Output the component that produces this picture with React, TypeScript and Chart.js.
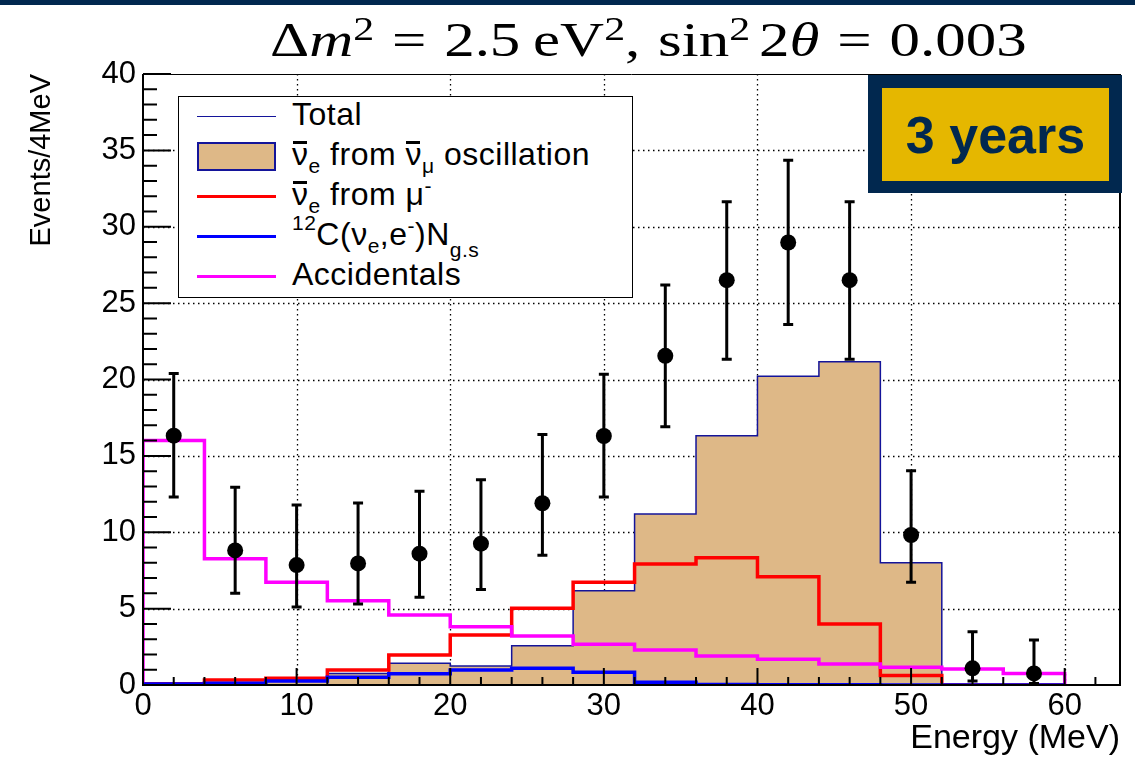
import React, { useEffect, useRef } from 'react';
import { Chart, registerables } from 'chart.js';

Chart.register(...registerables);

const SANS = '"Liberation Sans", Arial, Helvetica, sans-serif';
const SERIF = '"Liberation Serif", "Times New Roman", serif';
const NAVY = '#01284f';
const GOLD = '#e5b700';
const TAN = '#deb887';
const HIST_EDGE = '#14149a';

// ---- data ----
const binEdges = [0, 4, 8, 12, 16, 20, 24, 28, 32, 36, 40, 44, 48, 52, 56, 60];
const binCenters = [2, 6, 10, 14, 18, 22, 26, 30, 34, 38, 42, 46, 50, 54, 58];
const oscillation = [0, 0, 0.25, 0.75, 1.42, 1.24, 2.57, 6.17, 11.19, 16.32, 20.22, 21.16, 8.0, 0, 0];
const muDecay = [0.08, 0.33, 0.44, 0.98, 1.96, 3.27, 5.02, 6.72, 7.92, 8.33, 7.09, 3.99, 0.63, 0, 0];
const carbon = [0.07, 0.11, 0.26, 0.5, 0.74, 0.98, 1.09, 0.83, 0.18, 0.04, 0.02, 0.01, 0, 0, 0];
const accidentals = [16.0, 8.27, 6.72, 5.52, 4.58, 3.82, 3.2, 2.66, 2.29, 1.9, 1.68, 1.37, 1.16, 1.05, 0.76];
const observed = [16.32, 8.81, 7.85, 7.96, 8.6, 9.25, 11.9, 16.3, 21.55, 26.5, 28.97, 26.5, 9.82, 1.09, 0.76];
const errHigh = [20.4, 12.94, 11.78, 11.91, 12.68, 13.44, 16.4, 20.35, 26.18, 31.63, 34.36, 31.63, 14.03, 3.49, 2.94];
const errLow = [12.3, 6.0, 5.1, 5.3, 5.74, 6.26, 8.5, 12.3, 16.9, 21.33, 23.6, 21.33, 6.72, 0.26, 0.1];
const xTickValues = [0, 10, 20, 30, 40, 50, 60];
const yTickValues = [0, 5, 10, 15, 20, 25, 30, 35, 40];
const xGridValues = [10, 20, 30, 40, 50, 60];
const yGridValues = [5, 10, 15, 20, 25, 30, 35];
const X_MAX = 63.6;
const Y_MAX = 40;

function histPoints(values: number[]) {
  const pts: { x: number; y: number }[] = [{ x: binEdges[0], y: 0 }];
  values.forEach((v, i) => pts.push({ x: binEdges[i], y: v }));
  pts.push({ x: binEdges[binEdges.length - 1], y: 0 });
  return pts;
}

const rootFrame = {
  id: 'rootFrame',
  beforeDatasetsDraw(chart: any) {
    const { ctx, chartArea: a, scales } = chart;
    const xs = scales.x;
    const ys = scales.y;
    ctx.save();
    ctx.strokeStyle = '#000';
    ctx.lineWidth = 1.3;
    ctx.setLineDash([1.5, 3.5]);
    ctx.beginPath();
    xGridValues.forEach((v) => {
      const px = Math.round(xs.getPixelForValue(v)) + 0.5;
      ctx.moveTo(px, a.top);
      ctx.lineTo(px, a.bottom);
    });
    yGridValues.forEach((v) => {
      const py = Math.round(ys.getPixelForValue(v)) + 0.5;
      ctx.moveTo(a.left, py);
      ctx.lineTo(a.right, py);
    });
    ctx.stroke();
    ctx.restore();
  },
  afterDatasetsDraw(chart: any) {
    const { ctx, chartArea: a, scales } = chart;
    const xs = scales.x;
    const ys = scales.y;
    ctx.save();
    ctx.strokeStyle = '#000';
    ctx.lineWidth = 3;
    ctx.lineCap = 'butt';
    binCenters.forEach((c, i) => {
      const px = xs.getPixelForValue(c);
      const hi = ys.getPixelForValue(errHigh[i]);
      const lo = ys.getPixelForValue(errLow[i]);
      ctx.beginPath();
      ctx.moveTo(px, hi);
      ctx.lineTo(px, lo);
      ctx.moveTo(px - 5, hi);
      ctx.lineTo(px + 5, hi);
      ctx.moveTo(px - 5, lo);
      ctx.lineTo(px + 5, lo);
      ctx.stroke();
    });
    ctx.lineWidth = 2;
    ctx.beginPath();
    for (let v = 0; v <= X_MAX; v += 2) {
      const px = xs.getPixelForValue(v);
      const len = v % 10 === 0 ? 17 : 8;
      ctx.moveTo(px, a.bottom);
      ctx.lineTo(px, a.bottom - len);
    }
    for (let v = 0; v <= Y_MAX; v += 1) {
      const py = ys.getPixelForValue(v);
      const len = v % 5 === 0 ? 28 : 14;
      ctx.moveTo(a.left, py);
      ctx.lineTo(a.left + len, py);
    }
    ctx.stroke();
    ctx.beginPath();
    ctx.moveTo(a.left, a.top);
    ctx.lineTo(a.left, a.bottom);
    ctx.lineTo(a.right, a.bottom);
    ctx.lineTo(a.right, a.top);
    ctx.stroke();
    ctx.lineWidth = 1;
    ctx.beginPath();
    ctx.moveTo(a.left, a.top + 0.5);
    ctx.lineTo(a.right, a.top + 0.5);
    ctx.stroke();
    ctx.restore();
  },
};

const Sup = ({ children, size = 21, shift = -12 }: any) => (
  <span style={{ fontSize: size, position: 'relative', top: shift }}>{children}</span>
);
const Sub = ({ children, size = 21, shift = 8 }: any) => (
  <span style={{ fontSize: size, position: 'relative', top: shift }}>{children}</span>
);
const NuBar = () => (
  <span style={{ position: 'relative', display: 'inline-block' }}>
    ν
    <span
      style={{ position: 'absolute', left: 1, right: 2, top: 3, height: 3, background: '#000' }}
    />
  </span>
);

const TSup = ({ children }: any) => (
  <span style={{ fontSize: 33, position: 'relative', top: -16 }}>{children}</span>
);
const Op = ({ children }: any) => <span style={{ margin: '0 14px' }}>{children}</span>;

function Legend() {
  const rowTop = (i: number) => 1 + 40 * i;
  const lineY = (i: number) => 19.5 + 40 * i;
  const sample = (i: number, color: string, w: number) => (
    <div
      style={{
        position: 'absolute',
        left: 18,
        top: lineY(i) - w / 2,
        width: 79,
        height: w,
        background: color,
      }}
    />
  );
  const text = (i: number, content: any) => (
    <div
      style={{
        position: 'absolute',
        left: 113,
        top: rowTop(i),
        lineHeight: '32px',
        whiteSpace: 'nowrap',
        letterSpacing: 0.5,
      }}
    >
      {content}
    </div>
  );
  return (
    <div
      style={{
        position: 'absolute',
        left: 178,
        top: 96,
        width: 455,
        height: 202,
        boxSizing: 'border-box',
        border: '1.5px solid #000',
        background: '#fff',
        fontFamily: SANS,
        fontSize: 32,
        color: '#000',
      }}
    >
      {sample(0, HIST_EDGE, 1.5)}
      {text(0, 'Total')}
      <div
        style={{
          position: 'absolute',
          left: 18,
          top: 45,
          width: 79,
          height: 29,
          boxSizing: 'border-box',
          background: TAN,
          border: `2px solid ${HIST_EDGE}`,
        }}
      />
      {text(
        1,
        <>
          <NuBar />
          <Sub>e</Sub> from <NuBar />
          <Sub>μ</Sub> oscillation
        </>
      )}
      {sample(2, '#ff0000', 3.5)}
      {text(
        2,
        <>
          <NuBar />
          <Sub>e</Sub> from μ<Sup>-</Sup>
        </>
      )}
      {sample(3, '#0000ff', 3.5)}
      {text(
        3,
        <>
          <Sup shift={-15}>12</Sup>C(ν<Sub>e</Sub>,e<Sup>-</Sup>)N<Sub shift={12}>g.s</Sub>
        </>
      )}
      {sample(4, '#ff00ff', 3.5)}
      {text(4, 'Accidentals')}
    </div>
  );
}

export default function App() {
  const canvasRef = useRef<HTMLCanvasElement | null>(null);

  useEffect(() => {
    const canvas = canvasRef.current;
    if (!canvas) return;
    const lineDs = (label: string, values: number[], color: string) => ({
      label,
      data: histPoints(values),
      borderColor: color,
      borderWidth: 3.5,
      pointRadius: 0,
      stepped: 'before' as const,
      fill: false,
      tension: 0,
    });
    const chart = new Chart(canvas, {
      type: 'line',
      data: {
        datasets: [
          {
            label: 'Data',
            data: binCenters.map((c, i) => ({ x: c, y: observed[i] })),
            showLine: false,
            pointRadius: 8,
            pointBackgroundColor: '#000',
            pointBorderWidth: 0,
            borderColor: '#000',
          } as any,
          lineDs('12C(νe,e-)Ng.s', carbon, '#0000ff'),
          lineDs('Accidentals', accidentals, '#ff00ff'),
          lineDs('ν̄e from μ-', muDecay, '#ff0000'),
          {
            label: 'ν̄e from ν̄μ oscillation',
            data: histPoints(oscillation),
            borderColor: HIST_EDGE,
            borderWidth: 1.5,
            backgroundColor: TAN,
            pointRadius: 0,
            stepped: 'before',
            fill: 'origin',
            tension: 0,
          } as any,
        ],
      },
      options: {
        responsive: false,
        animation: false,
        events: [],
        layout: { padding: { top: 74, right: 15, left: 0, bottom: 0 } },
        plugins: {
          legend: { display: false },
          tooltip: { enabled: false },
          title: { display: false },
        },
        scales: {
          x: {
            type: 'linear',
            min: 0,
            max: X_MAX,
            grid: { display: false, drawTicks: false },
            border: { display: false },
            afterBuildTicks: (s: any) => {
              s.ticks = xTickValues.map((v) => ({ value: v }));
            },
            ticks: {
              autoSkip: false,
              maxRotation: 0,
              padding: 3,
              color: '#000',
              font: { family: SANS, size: 31 },
              callback: (v: any) => String(v),
            },
            title: {
              display: true,
              text: 'Energy (MeV)',
              align: 'end',
              color: '#000',
              font: { family: SANS, size: 34 },
              padding: { top: 0, bottom: 5 },
            },
            afterFit: (s: any) => {
              s.height = 79;
            },
          },
          y: {
            type: 'linear',
            min: 0,
            max: Y_MAX,
            grid: { display: false, drawTicks: false },
            border: { display: false },
            afterBuildTicks: (s: any) => {
              s.ticks = yTickValues.map((v) => ({ value: v }));
            },
            ticks: {
              padding: 7,
              color: '#000',
              font: { family: SANS, size: 31 },
              callback: (v: any) => String(v),
            },
            title: {
              display: true,
              text: 'Events/4MeV',
              align: 'end',
              color: '#000',
              font: { family: SANS, size: 29 },
              padding: { top: 25, bottom: 0 },
            },
            afterFit: (s: any) => {
              s.width = 143;
            },
          },
        },
      } as any,
      plugins: [rootFrame],
    });
    return () => chart.destroy();
  }, []);

  return (
    <div
      style={{
        position: 'fixed',
        left: 0,
        top: 0,
        width: 1135,
        height: 764,
        background: '#fff',
        overflow: 'hidden',
      }}
    >
      <canvas ref={canvasRef} width={1135} height={764} style={{ position: 'absolute', left: 0, top: 0 }} />
      <div style={{ position: 'absolute', left: 0, top: 0, width: 1135, height: 5, background: NAVY }} />
      <div
        style={{
          position: 'absolute',
          left: 270,
          top: 16,
          fontFamily: SERIF,
          fontSize: 48,
          lineHeight: '48px',
          whiteSpace: 'nowrap',
          color: '#000',
          transform: 'scaleX(1.27)',
          transformOrigin: 'left top',
        }}
      >
        Δ<i>m</i>
        <TSup>2</TSup>
        <Op>=</Op>2.5<span style={{ marginLeft: 10 }}>eV</span>
        <TSup>2</TSup>,<span style={{ marginLeft: 14 }}>sin</span>
        <TSup>2</TSup>
        <span style={{ marginLeft: 7 }}>2</span>
        <i>θ</i>
        <Op>=</Op>0.003
      </div>
      <Legend />
      <div
        style={{
          position: 'absolute',
          left: 868,
          top: 75,
          width: 254,
          height: 118,
          background: NAVY,
        }}
      >
        <div
          style={{
            position: 'absolute',
            left: 14,
            top: 13,
            width: 227,
            height: 93,
            background: GOLD,
            display: 'flex',
            alignItems: 'center',
            justifyContent: 'center',
            fontFamily: SANS,
            fontWeight: 700,
            fontSize: 52,
            color: NAVY,
            lineHeight: 1,
          }}
        >
          3 years
        </div>
      </div>
    </div>
  );
}
